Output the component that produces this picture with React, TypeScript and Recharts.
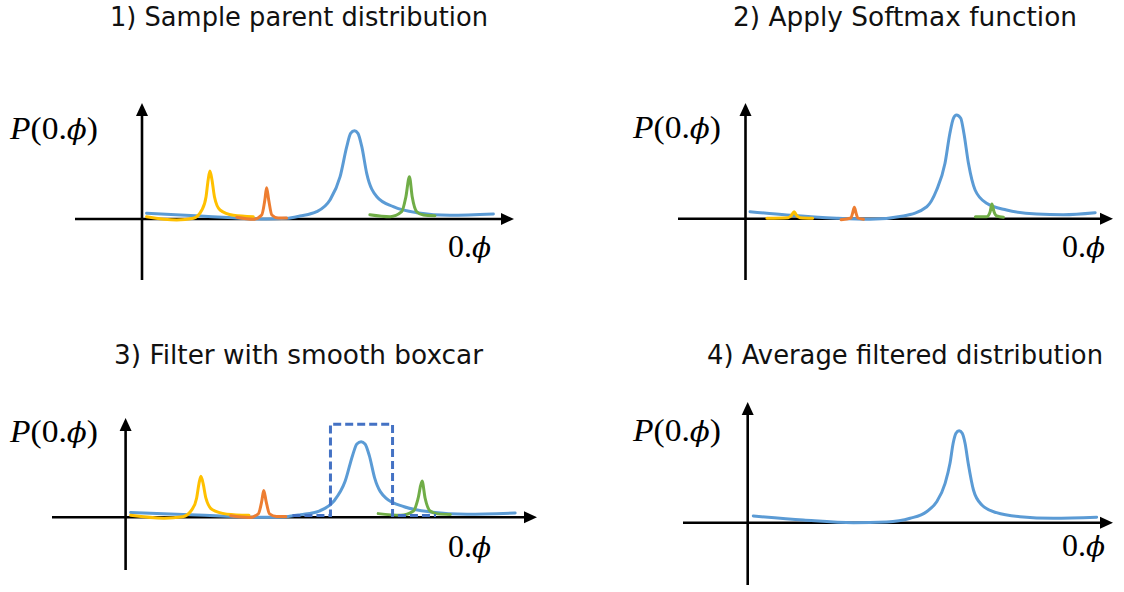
import React from 'react';
import { LineChart, Line, XAxis, YAxis, ReferenceLine } from 'recharts';

type Pt = { x: number; y: number };

// Step titles
const stepTitles = [
  '1) Sample parent distribution',
  '2) Apply Softmax function',
  '3) Filter with smooth boxcar',
  '4) Average filtered distribution',
];

// Sampled parent distribution (main mode) and three narrow side samples
const parentMain: Pt[] = [
  { x: 0.013, y: 0.057 }, { x: 0.166, y: 0.03 }, { x: 0.26, y: 0.012 }, { x: 0.356, y: 0.0 },
  { x: 0.413, y: 0.007 }, { x: 0.451, y: 0.03 }, { x: 0.499, y: 0.073 }, { x: 0.537, y: 0.19 },
  { x: 0.566, y: 0.423 }, { x: 0.585, y: 0.723 }, { x: 0.596, y: 0.857 }, { x: 0.607, y: 0.883 },
  { x: 0.617, y: 0.857 }, { x: 0.628, y: 0.723 }, { x: 0.642, y: 0.457 }, { x: 0.671, y: 0.223 },
  { x: 0.718, y: 0.123 }, { x: 0.785, y: 0.063 }, { x: 0.88, y: 0.037 }, { x: 1.004, y: 0.05 },
];
const parentYellow: Pt[] = [
  { x: 0.013, y: 0.023 }, { x: 0.099, y: -0.01 }, { x: 0.147, y: 0.007 }, { x: 0.171, y: 0.09 },
  { x: 0.183, y: 0.223 }, { x: 0.189, y: 0.39 }, { x: 0.194, y: 0.48 }, { x: 0.2, y: 0.39 },
  { x: 0.207, y: 0.223 }, { x: 0.223, y: 0.09 }, { x: 0.261, y: 0.037 }, { x: 0.318, y: 0.023 },
];
const parentOrange: Pt[] = [
  { x: 0.271, y: 0.017 }, { x: 0.318, y: -0.003 }, { x: 0.342, y: 0.04 }, { x: 0.351, y: 0.19 },
  { x: 0.356, y: 0.313 }, { x: 0.362, y: 0.19 }, { x: 0.371, y: 0.04 }, { x: 0.389, y: 0.01 },
  { x: 0.413, y: 0.01 },
];
const parentGreen: Pt[] = [
  { x: 0.651, y: 0.043 }, { x: 0.709, y: 0.023 }, { x: 0.742, y: 0.073 }, { x: 0.754, y: 0.223 },
  { x: 0.764, y: 0.423 }, { x: 0.772, y: 0.223 }, { x: 0.785, y: 0.073 }, { x: 0.804, y: 0.04 },
  { x: 0.837, y: 0.033 },
];

// After the softmax
const softmaxMain: Pt[] = [
  { x: 0.013, y: 0.07 }, { x: 0.118, y: 0.037 }, { x: 0.261, y: 0.004 }, { x: 0.356, y: -0.006 },
  { x: 0.451, y: 0.027 }, { x: 0.518, y: 0.12 }, { x: 0.546, y: 0.287 }, { x: 0.57, y: 0.554 },
  { x: 0.584, y: 0.854 }, { x: 0.594, y: 1.004 }, { x: 0.603, y: 1.037 }, { x: 0.615, y: 1.004 },
  { x: 0.624, y: 0.854 }, { x: 0.637, y: 0.554 }, { x: 0.656, y: 0.287 }, { x: 0.689, y: 0.154 },
  { x: 0.746, y: 0.087 }, { x: 0.832, y: 0.047 }, { x: 0.908, y: 0.04 }, { x: 0.999, y: 0.06 },
];
const softmaxYellow: Pt[] = [
  { x: 0.061, y: 0.004 }, { x: 0.122, y: 0.01 }, { x: 0.132, y: 0.037 }, { x: 0.139, y: 0.07 },
  { x: 0.145, y: 0.037 }, { x: 0.156, y: 0.01 }, { x: 0.192, y: 0.004 },
];
const softmaxOrange: Pt[] = [
  { x: 0.273, y: -0.01 }, { x: 0.301, y: 0.007 }, { x: 0.306, y: 0.054 }, { x: 0.311, y: 0.114 },
  { x: 0.316, y: 0.054 }, { x: 0.321, y: 0.007 }, { x: 0.337, y: -0.006 },
];
const softmaxGreen: Pt[] = [
  { x: 0.657, y: 0.02 }, { x: 0.689, y: 0.02 }, { x: 0.699, y: 0.07 }, { x: 0.704, y: 0.147 },
  { x: 0.71, y: 0.07 }, { x: 0.718, y: 0.027 }, { x: 0.737, y: 0.014 },
];

// Smooth boxcar window
const boxcar: Pt[] = [
  { x: 0.43, y: 0.02 }, { x: 0.528, y: 0.02 }, { x: 0.528, y: 1.086 },
  { x: 0.688, y: 1.086 }, { x: 0.688, y: 0.02 }, { x: 0.8, y: 0.02 },
];

// Averaged filtered distribution
const averaged: Pt[] = [
  { x: 0.016, y: 0.067 }, { x: 0.159, y: 0.027 }, { x: 0.302, y: 0.0 }, { x: 0.397, y: 0.007 },
  { x: 0.464, y: 0.044 }, { x: 0.511, y: 0.11 }, { x: 0.54, y: 0.21 }, { x: 0.564, y: 0.394 },
  { x: 0.578, y: 0.594 }, { x: 0.587, y: 0.794 }, { x: 0.595, y: 0.894 }, { x: 0.604, y: 0.92 },
  { x: 0.613, y: 0.894 }, { x: 0.621, y: 0.794 }, { x: 0.63, y: 0.594 }, { x: 0.645, y: 0.327 },
  { x: 0.669, y: 0.177 }, { x: 0.711, y: 0.1 }, { x: 0.778, y: 0.06 }, { x: 0.873, y: 0.044 },
  { x: 0.997, y: 0.054 },
];

const BLUE = '#5B9BD5';
const ORANGE = '#ED7D31';
const YELLOW = '#FFC000';
const GREEN = '#70AD47';
const DASH = '#4472C4';

type SeriesDef = { data: Pt[]; color: string; dashed?: boolean; linear?: boolean };

const panelSeries: SeriesDef[][] = [
  [
    { data: parentMain, color: BLUE },
    { data: parentYellow, color: YELLOW },
    { data: parentOrange, color: ORANGE },
    { data: parentGreen, color: GREEN },
  ],
  [
    { data: softmaxMain, color: BLUE },
    { data: softmaxYellow, color: YELLOW },
    { data: softmaxOrange, color: ORANGE },
    { data: softmaxGreen, color: GREEN },
  ],
  [
    { data: parentMain, color: BLUE },
    { data: parentYellow, color: YELLOW },
    { data: parentOrange, color: ORANGE },
    { data: parentGreen, color: GREEN },
    { data: boxcar, color: DASH, dashed: true, linear: true },
  ],
  [{ data: averaged, color: BLUE }],
];

// Page layout of each panel: axis origin, axis extents, units-to-pixels scale, text anchors
const PANELS = [
  { ox: 142, oy: 219, left: 75, right: 514, top: 103, bottom: 280, sx: 350, sy: 100,
    title: { x: 110, y: 26, w: 378 }, yLab: { x: 10, y: 139 }, xLab: { x: 448, y: 257 } },
  { ox: 745.5, oy: 218.7, left: 678, right: 1113, top: 103, bottom: 280, sx: 350, sy: 100,
    title: { x: 733, y: 26, w: 344 }, yLab: { x: 633, y: 138 }, xLab: { x: 1062, y: 257 } },
  { ox: 125.3, oy: 517.3, left: 51.7, right: 536.7, top: 418, bottom: 570, sx: 388, sy: 85.6,
    title: { x: 114, y: 364, w: 369 }, yLab: { x: 10, y: 442 }, xLab: { x: 448, y: 557 } },
  { ox: 747.7, oy: 522.7, left: 683, right: 1113, top: 402, bottom: 585, sx: 350, sy: 100,
    title: { x: 707, y: 364, w: 396 }, yLab: { x: 633, y: 441 }, xLab: { x: 1062, y: 556 } },
];

const M = 12;

const ArrowShape = (props: any) => {
  const { x1, y1, x2, y2 } = props;
  const ang = Math.atan2(y2 - y1, x2 - x1);
  const len = 13;
  const half = 6;
  const bx = x2 - len * Math.cos(ang);
  const by = y2 - len * Math.sin(ang);
  const px = -Math.sin(ang) * half;
  const py = Math.cos(ang) * half;
  return (
    <g>
      <line x1={x1} y1={y1} x2={bx + 2 * Math.cos(ang)} y2={by + 2 * Math.sin(ang)} stroke="#000" strokeWidth={2.6} />
      <polygon points={`${x2},${y2} ${bx + px},${by + py} ${bx - px},${by - py}`} fill="#000" />
    </g>
  );
};

function Panel({ idx }: { idx: number }) {
  const p = PANELS[idx];
  const xDomain: [number, number] = [(p.left - p.ox) / p.sx, (p.right - p.ox) / p.sx];
  const yDomain: [number, number] = [(p.oy - p.bottom) / p.sy, (p.oy - p.top) / p.sy];
  const width = p.right - p.left + 2 * M;
  const height = p.bottom - p.top + 2 * M;
  return (
    <div style={{ position: 'absolute', left: p.left - M, top: p.top - M, width, height }}>
      <LineChart width={width} height={height} margin={{ top: M, right: M, bottom: M, left: M }}>
        <XAxis type="number" dataKey="x" domain={xDomain} allowDataOverflow hide />
        <YAxis type="number" domain={yDomain} allowDataOverflow hide />
        <ReferenceLine
          segment={[{ x: xDomain[0], y: 0 }, { x: xDomain[1], y: 0 }]}
          ifOverflow="visible"
          shape={ArrowShape}
        />
        <ReferenceLine
          segment={[{ x: 0, y: yDomain[0] }, { x: 0, y: yDomain[1] }]}
          ifOverflow="visible"
          shape={ArrowShape}
        />
        {panelSeries[idx].map((s, i) => (
          <Line
            key={i}
            data={s.data}
            dataKey="y"
            type={s.linear ? 'linear' : 'monotone'}
            stroke={s.color}
            strokeWidth={3}
            strokeDasharray={s.dashed ? '8 4' : undefined}
            strokeLinecap={s.dashed ? 'butt' : 'round'}
            strokeLinejoin="miter"
            dot={false}
            activeDot={false}
            isAnimationActive={false}
          />
        ))}
      </LineChart>
    </div>
  );
}

const mathFont = "'Liberation Serif', serif";
const phiFont = "'DejaVu Serif', serif";

export default function App() {
  return (
    <div style={{ position: 'absolute', left: 0, top: 0, width: 1124, height: 592, background: '#fff', overflow: 'hidden' }}>
      <svg width={1124} height={592} style={{ position: 'absolute', left: 0, top: 0 }}>
        {PANELS.map((p, i) => (
          <g key={i}>
            <text x={p.title.x} y={p.title.y} fontFamily="'DejaVu Sans', sans-serif" fontSize={26}
              textLength={p.title.w} lengthAdjust="spacingAndGlyphs" fill="#111">
              {stepTitles[i]}
            </text>
            <text x={p.yLab.x} y={p.yLab.y} fontFamily={mathFont} fontSize={32}
              textLength={88} lengthAdjust="spacingAndGlyphs" fill="#000">
              <tspan fontStyle="italic">P</tspan>(0.<tspan fontStyle="italic" fontFamily={phiFont} fontSize={28}>ϕ</tspan>)
            </text>
            <text x={p.xLab.x} y={p.xLab.y} fontFamily={mathFont} fontSize={32}
              textLength={43} lengthAdjust="spacingAndGlyphs" fill="#000">
              0.<tspan fontStyle="italic" fontFamily={phiFont} fontSize={28}>ϕ</tspan>
            </text>
          </g>
        ))}
      </svg>
      {PANELS.map((_, i) => (
        <Panel key={i} idx={i} />
      ))}
    </div>
  );
}
